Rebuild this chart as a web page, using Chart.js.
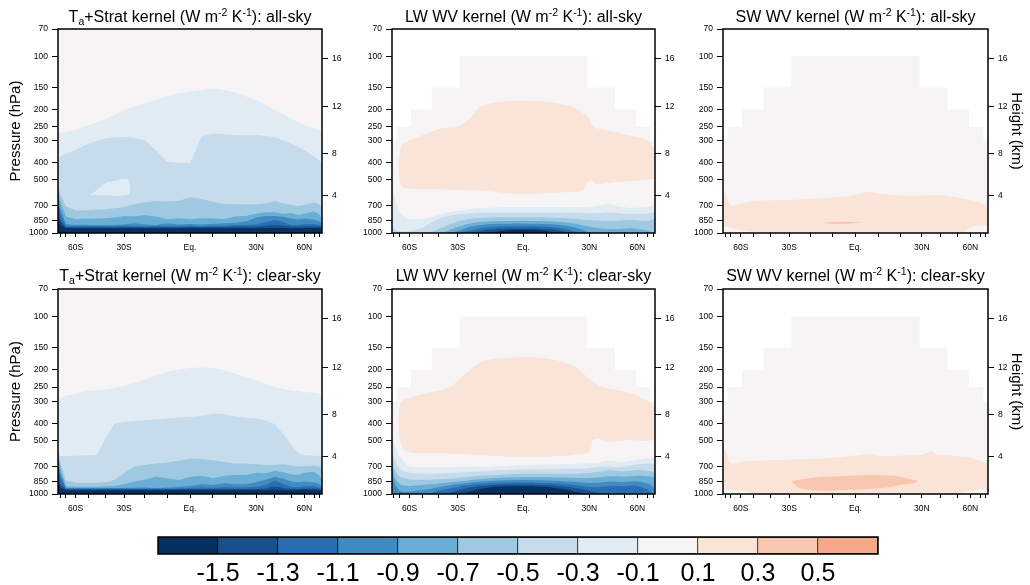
<!DOCTYPE html>
<html>
<head>
<meta charset="utf-8">
<script src="https://cdn.jsdelivr.net/npm/chart.js@4.4.1/dist/chart.umd.min.js"></script>
<style>
  html, body { margin: 0; padding: 0; background: #fff; }
  body { width: 1030px; height: 585px; position: relative; overflow: hidden; font-family: 'Liberation Sans', Arial, sans-serif; }
  canvas { position: absolute; }
  .ttl { position: absolute; text-align: center; font-size: 16px; line-height: 20px; color: #000; white-space: nowrap; }
  .ttl sup, .ttl sub { font-size: 10.5px; line-height: 0; }
  .ttl sup { vertical-align: 6px; }
  .ttl sub { vertical-align: -3px; }
</style>
</head>
<body>
<script>
// ---- axes / ticks ----
const lats = [-90,-80,-70,-60,-55,-50,-45,-40,-35,-30,-25,-20,-15,-10,-5,0,5,10,15,20,25,30,35,40,45,50,55,60,70,80,90];
const pressureTicks = [70,100,150,200,250,300,400,500,700,850,1000];
const heightTicks = [4,8,12,16];
const latTicks = [-80,-70,-60,-50,-40,-30,-20,-10,0,10,20,30,40,50,60,70,80];
const latLabelValues = [-60,-30,0,30,60];
const latLabelText = ['60S','30S','Eq.','30N','60N'];

// colour levels, from < -1.5 up to > 0.5
const cbLabels = ['-1.5','-1.3','-1.1','-0.9','-0.7','-0.5','-0.3','-0.1','0.1','0.3','0.5'];
const levelColors = ['#06305f','#18508c','#2a6db0','#3f8bc2','#6aaed6','#9ec9e0','#c6dcec','#e0ebf3','#f7f4f5','#fae3d7','#f9c7b0','#f4a887'];

// top of the data region for the WV kernels (below the tropopause)
const maskLats = [-90,-75,-59,-44,-29,29,44,59,75,90];
const maskTops = [300,250,200,150,100,150,200,250,300];

// contour boundaries (hPa at each lat), levels -0.1, -0.3 ... -1.5
const taAllLayers = [
  [273,272,268,262,252,245,236,228,214,201,192,184,176,168,162,158,155,152,155,160,168,177,188,201,212,224,236,245,255,262,266],
  [400,370,355,339,325,311,300,292,288,286,290,298,340,395,400,400,285,273,276,279,279,279,282,286,298,311,325,339,370,390,400],
  [520,600,709,745,745,741,735,733,724,715,685,670,660,663,660,630,640,667,685,688,688,688,680,660,680,694,703,694,670,694,741],
  [571,650,807,837,831,831,827,824,817,800,807,791,807,837,824,837,824,824,837,807,800,779,764,764,779,771,791,779,755,791,844],
  [600,720,890,900,898,900,900,900,898,895,880,895,900,880,895,890,895,885,880,875,860,820,800,800,810,830,840,830,840,860,900],
  [650,780,915,915,915,913,915,915,915,910,915,915,913,915,915,910,915,910,910,905,900,895,870,845,870,900,905,890,890,905,920],
  [700,850,928,928,928,928,928,928,928,925,928,928,928,928,928,925,928,925,925,922,920,918,910,900,910,920,922,915,915,920,928],
  [760,900,940,940,940,940,940,940,940,940,940,940,940,940,940,940,940,940,940,940,940,940,938,936,938,940,940,936,936,938,940]
];
const taAllPocket = [[-49.5,607],[-45,575],[-40,522],[-34,505],[-28,496],[-27.8,605],[-49.5,607]];

const taClrLayers = [
  [293,290,280,272,266,262,260,258,253,246,236,226,216,205,199,195,194,195,201,210,220,229,240,250,256,261,264,266,269,272,273],
  [600,610,610,608,606,604,602,490,401,393,388,384,380,376,372,368,362,352,355,366,372,376,386,405,460,530,585,604,608,610,610],
  [560,650,840,864,864,864,864,860,834,765,700,687,673,665,650,630,635,645,660,673,673,680,687,687,680,690,700,695,690,700,717],
  [580,700,905,910,910,910,910,905,900,880,850,830,800,816,834,800,790,816,790,782,782,760,765,740,755,775,782,760,750,790,850],
  [600,750,925,925,925,925,925,925,925,925,922,918,925,920,912,900,880,890,870,880,880,860,830,800,820,850,860,850,860,880,925],
  [650,800,932,932,932,932,932,932,932,932,932,932,932,932,930,925,920,925,915,920,920,910,895,840,880,910,915,905,905,925,932],
  [700,880,942,942,942,942,942,942,942,942,942,942,942,942,940,938,938,938,935,938,938,935,930,905,925,935,938,932,932,938,942],
  [760,920,950,950,950,950,950,950,950,950,950,950,950,950,950,950,950,950,950,950,950,950,948,945,948,950,950,946,946,948,950]
];

const lwAllLayers = [
  [500,600,760,830,835,830,810,790,765,745,735,725,720,715,712,712,712,712,712,712,712,710,700,680,700,715,722,718,710,700,650],
  [900,950,980,975,960,930,880,830,800,785,775,770,767,765,765,765,765,765,766,768,770,772,770,765,770,778,780,780,775,765,740],
  [1000,1000,1000,1000,1000,1000,990,950,900,860,835,823,818,815,815,815,815,816,820,826,835,845,850,850,852,848,845,848,855,840,820],
  [1000,1000,1000,1000,1000,1000,1000,1000,970,925,890,870,860,856,855,855,856,858,864,875,895,920,940,950,950,945,940,950,970,1000,1000],
  [1000,1000,1000,1000,1000,1000,1000,1000,1000,975,930,905,893,887,885,885,886,890,898,915,945,990,1000,1000,1000,1000,1000,1000,1000,1000,1000],
  [1000,1000,1000,1000,1000,1000,1000,1000,1000,1000,975,945,928,918,915,915,916,922,935,960,995,1000,1000,1000,1000,1000,1000,1000,1000,1000,1000],
  [1000,1000,1000,1000,1000,1000,1000,1000,1000,1000,1000,980,960,947,942,942,943,950,965,990,1000,1000,1000,1000,1000,1000,1000,1000,1000,1000,1000],
  [1000,1000,1000,1000,1000,1000,1000,1000,1000,1000,1000,1000,1000,975,962,960,962,975,1000,1000,1000,1000,1000,1000,1000,1000,1000,1000,1000,1000,1000]
];
const lwAllBlob = [[-72,400],[-69,330],[-66,311],[-47,273],[-39,256],[-30,250],[-25,229],[-19,193],[-10,181],[0,179],[10,181],[22,193],[29,220],[32,250],[39,261],[52,279],[70,298],[81,325],[90,330],
  [90,490],[75,495],[60,505],[45,515],[38,525],[34,530],[31,500],[29,525],[27,570],[22,585],[15,590],[5,600],[0,603],[-7,595],[-19,575],[-30,570],[-49,566],[-62,560],[-68,540],[-71,470],[-72,400]];

const lwClrLayers = [
  [450,520,620,700,705,708,708,708,706,705,703,700,700,695,690,688,686,683,680,678,675,672,665,650,655,660,650,640,630,620,610],
  [500,620,720,760,765,768,768,766,762,758,752,746,740,735,732,730,728,726,724,722,720,715,705,700,705,700,690,680,675,675,680],
  [560,700,800,825,830,832,830,826,820,812,802,792,784,778,773,770,770,770,770,770,768,762,750,735,740,745,740,733,740,750,760],
  [620,780,880,900,895,890,882,872,862,850,838,826,817,810,806,805,805,806,808,810,812,812,805,795,795,800,795,790,795,800,820],
  [700,850,960,970,960,950,935,915,898,882,866,854,845,839,836,835,836,839,844,850,858,866,862,852,852,855,850,850,870,910,960],
  [1000,1000,1000,1000,1000,1000,990,960,935,912,893,879,870,865,862,862,863,867,874,885,898,912,915,905,900,905,895,900,940,1000,1000],
  [1000,1000,1000,1000,1000,1000,1000,1000,990,955,925,905,893,887,885,885,886,890,900,915,935,960,990,1000,1000,1000,1000,1000,1000,1000,1000],
  [1000,1000,1000,1000,1000,1000,1000,1000,1000,1000,975,940,918,908,905,905,907,913,928,950,985,1000,1000,1000,1000,1000,1000,1000,1000,1000,1000]
];
const lwClrBlob = [[-72,393],[-68,303],[-49,272],[-34,250],[-29,224],[-19,181],[-10,172],[0,170],[10,172],[22,189],[29,220],[37,250],[52,266],[74,303],[90,330],
  [90,487],[52,497],[39,508],[35,487],[32,495],[30,579],[22,604],[0,617],[-19,604],[-34,591],[-62,579],[-69.5,508],[-72,393]];

const swAllBand = [[-90,640],[-80,590],[-70,700],[-60,680],[-50,660],[-40,652],[-30,650],[-20,640],[-10,630],[0,612],[5,585],[10,600],[20,615],[30,615],[40,610],[50,630],[60,650],[70,670],[80,694],[90,690],
  [90,905],[75,905],[60,930],[52,1000],[-42,1000],[-60,965],[-75,925],[-90,920],[-90,640]];
const swAllLens = [[-14.2,875],[-10,866],[-4,865],[1.8,870],[-1,880],[-4,889],[-8.3,890],[-12,884],[-14.2,875]];

const swClrBand = [[-90,600],[-80,560],[-70,670],[-60,660],[-50,652],[-40,646],[-30,642],[-20,636],[-10,625],[0,606],[5,598],[10,610],[20,608],[30,603],[35,575],[38,600],[45,605],[50,612],[60,625],[70,650],[80,665],[90,660],
  [90,940],[75,935],[60,960],[52,1000],[-45,1000],[-60,960],[-75,940],[-90,935],[-90,600]];
const swClrLens = [[-29,845],[-18.7,810],[-4,793],[4.7,782],[17.9,793],[24.1,824],[28.2,845],[25.7,871],[17.9,898],[10.5,929],[-4,950],[-15.7,958],[-24.9,929],[-29,850]];

const titles = [
  'T<sub>a</sub>+Strat kernel (W m<sup>-2</sup> K<sup>-1</sup>): all-sky',
  'LW WV kernel (W m<sup>-2</sup> K<sup>-1</sup>): all-sky',
  'SW WV kernel (W m<sup>-2</sup> K<sup>-1</sup>): all-sky',
  'T<sub>a</sub>+Strat kernel (W m<sup>-2</sup> K<sup>-1</sup>): clear-sky',
  'LW WV kernel (W m<sup>-2</sup> K<sup>-1</sup>): clear-sky',
  'SW WV kernel (W m<sup>-2</sup> K<sup>-1</sup>): clear-sky'
];

// ---- layout ----
const colLeft = [58, 392, 723];
const colRight = [322, 655, 988];
const rowTop = [29, 289];
const rowBottom = [233, 494];
const FONT = "'Liberation Sans', Arial, sans-serif";

// x axis runs in sin(latitude)
class SinLatScale extends Chart.LinearScale {
  static id = 'sinlat';
  static defaults = {};
  getPixelForValue(value) {
    if (value === null || value === undefined) return NaN;
    const s0 = Math.sin(this.min * Math.PI / 180);
    const s1 = Math.sin(this.max * Math.PI / 180);
    return this.getPixelForDecimal((Math.sin(value * Math.PI / 180) - s0) / (s1 - s0));
  }
  getValueForPixel(pixel) {
    const s0 = Math.sin(this.min * Math.PI / 180);
    const s1 = Math.sin(this.max * Math.PI / 180);
    return Math.asin(s0 + this.getDecimalForPixel(pixel) * (s1 - s0)) * 180 / Math.PI;
  }
}
Chart.register(SinLatScale);

// US standard atmosphere, for the height axis
function heightToPressure(km) {
  const h = km * 1000;
  if (h <= 11000) return 1013.25 * Math.pow(1 - 2.25577e-5 * h, 5.25588);
  return 226.32 * Math.exp(-(h - 11000) / 6341.62);
}

const framePlugin = {
  id: 'frame',
  afterDatasetsDraw(chart) {
    const { ctx, chartArea: a } = chart;
    ctx.save();
    ctx.strokeStyle = '#000';
    ctx.lineWidth = 1.5;
    ctx.strokeRect(a.left, a.top, a.right - a.left, a.bottom - a.top);
    ctx.restore();
  }
};

function addCanvas(left, top, w, h) {
  const c = document.createElement('canvas');
  c.width = w; c.height = h;
  c.style.left = left + 'px'; c.style.top = top + 'px';
  c.style.width = w + 'px'; c.style.height = h + 'px';
  document.body.appendChild(c);
  return c.getContext('2d');
}

function addTitle(html, left, width, top) {
  const d = document.createElement('div');
  d.className = 'ttl';
  d.innerHTML = html;
  d.style.left = left + 'px';
  d.style.width = width + 'px';
  d.style.top = top + 'px';
  document.body.appendChild(d);
}

const toPts = list => list.map(([x, y]) => ({ x, y }));
const toCurve = arr => lats.map((lat, i) => ({ x: lat, y: arr[i] }));

function maskPoints(stepped) {
  if (!stepped) return [{ x: -90, y: 70 }, { x: 90, y: 70 }];
  const pts = [];
  maskTops.forEach((p, i) => {
    pts.push({ x: maskLats[i], y: p });
    pts.push({ x: maskLats[i + 1], y: p });
  });
  return pts;
}

function makePanel(idx, layers, shapes, stepped, tension) {
  const col = idx % 3, row = Math.floor(idx / 3);
  const pw = colRight[col] - colLeft[col];
  const ph = rowBottom[row] - rowTop[row];
  const left = colLeft[col] - 58, top = rowTop[row] - 10;
  const ctx = addCanvas(left, top, pw + 100, ph + 34);
  addTitle(titles[idx], colLeft[col] - 40, pw + 80, row === 0 ? 7 : 265.5);

  const sets = [];
  sets.push({ data: maskPoints(stepped), backgroundColor: levelColors[8], fill: { value: 1000 }, tension: 0 });
  layers.forEach((arr, k) => {
    sets.push({ data: toCurve(arr), backgroundColor: levelColors[7 - k], fill: { value: 1000 }, tension });
  });
  shapes.forEach(([c, list]) => {
    sets.push({ data: toPts(list), backgroundColor: levelColors[c], fill: 'shape', tension: 0.3 });
  });
  // first dataset is painted last, so put the top layers first
  const datasets = sets.reverse().map(s => Object.assign({ borderWidth: 0, pointRadius: 0 }, s));

  const tickFont = { family: FONT, size: 8.5 };
  const tickGrid = len => ({ display: true, drawOnChartArea: false, drawTicks: true, tickLength: len, tickColor: '#000', tickWidth: 1 });

  new Chart(ctx, {
    type: 'line',
    data: { datasets },
    options: {
      responsive: false,
      animation: false,
      events: [],
      layout: { padding: { top: 10, left: 0, right: 0, bottom: 0 } },
      plugins: { legend: { display: false }, tooltip: { enabled: false } },
      scales: {
        x: {
          type: 'sinlat', min: -90, max: 90,
          afterBuildTicks: s => { s.ticks = latTicks.map(v => ({ value: v })); },
          afterFit: s => { s.height = 24; },
          grid: tickGrid(4),
          border: { display: false },
          ticks: {
            autoSkip: false, maxRotation: 0, padding: 6, color: '#000', font: tickFont,
            callback: v => { const i = latLabelValues.indexOf(v); return i < 0 ? '' : latLabelText[i]; }
          }
        },
        y: {
          type: 'logarithmic', position: 'left', reverse: true, min: 70, max: 1000,
          afterBuildTicks: s => { s.ticks = pressureTicks.map(v => ({ value: v })); },
          afterFit: s => { s.width = 58; },
          grid: tickGrid(6),
          border: { display: false },
          ticks: { autoSkip: false, padding: 4, color: '#000', font: tickFont, callback: v => String(v) },
          title: { display: col === 0, text: 'Pressure (hPa)', color: '#000', font: { family: FONT, size: 15 }, padding: { top: 7, bottom: 0 } }
        },
        y2: {
          type: 'logarithmic', position: 'right', reverse: true, min: 70, max: 1000,
          afterBuildTicks: s => { s.ticks = heightTicks.map(h => ({ value: heightToPressure(h) })); },
          afterFit: s => { s.width = 42; },
          grid: tickGrid(6),
          border: { display: false },
          ticks: { autoSkip: false, padding: 4, color: '#000', font: tickFont, callback: (v, i) => String(heightTicks[i]) },
          title: { display: col === 2, text: 'Height (km)', color: '#000', font: { family: FONT, size: 15 }, padding: { top: 4.5, bottom: 0 } }
        }
      }
    },
    plugins: [framePlugin]
  });
}

makePanel(0, taAllLayers, [[7, taAllPocket]], false, 0);
makePanel(1, lwAllLayers, [[9, lwAllBlob]], true, 0.3);
makePanel(2, [], [[9, swAllBand], [10, swAllLens]], true, 0.3);
makePanel(3, taClrLayers, [], false, 0);
makePanel(4, lwClrLayers, [[9, lwClrBlob]], true, 0.3);
makePanel(5, [], [[9, swClrBand], [10, swClrLens]], true, 0.3);

// ---- colour bar ----
const cbCtx = addCanvas(150, 530, 740, 57);
new Chart(cbCtx, {
  type: 'bar',
  data: {
    labels: [''],
    datasets: levelColors.map(c => ({
      data: [1], backgroundColor: c, borderColor: '#000', borderWidth: 1, borderSkipped: 'start',
      barPercentage: 1, categoryPercentage: 1
    }))
  },
  options: {
    indexAxis: 'y',
    responsive: false,
    animation: false,
    events: [],
    layout: { padding: { left: 8, right: 12, top: 7, bottom: 0 } },
    plugins: { legend: { display: false }, tooltip: { enabled: false } },
    scales: {
      x: {
        type: 'linear', stacked: true, min: 0, max: 12,
        afterBuildTicks: s => { s.ticks = cbLabels.map((_, i) => ({ value: i + 1 })); },
        afterFit: s => { s.height = 33; },
        grid: { display: false, drawTicks: false },
        border: { display: false },
        ticks: { autoSkip: false, maxRotation: 0, padding: 5, color: '#000', font: { family: FONT, size: 25 }, callback: (v, i) => cbLabels[i] }
      },
      y: { stacked: true, display: false }
    }
  },
  plugins: [framePlugin]
});
</script>
</body>
</html>
